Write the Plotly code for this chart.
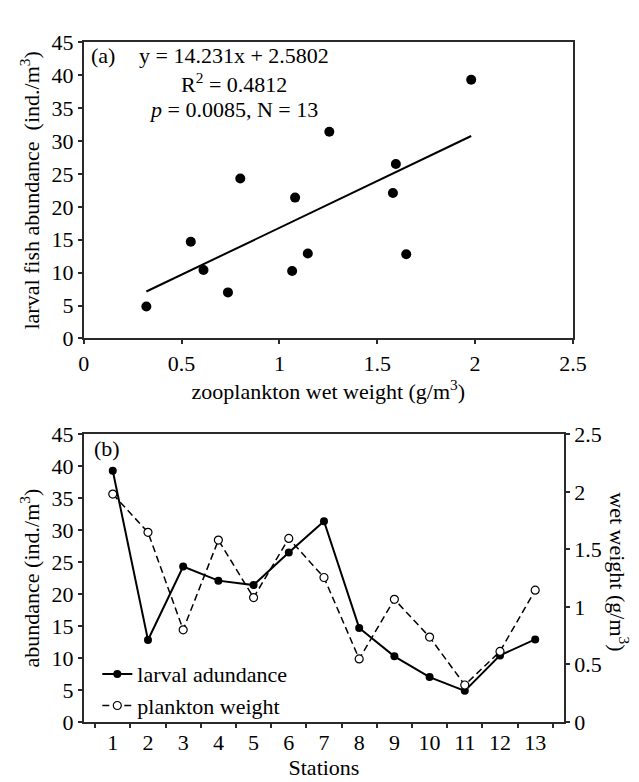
import numpy as np
import plotly.graph_objects as go

# station data
stations = [str(i) for i in range(1, 14)]
larval_abundance = [39.3, 12.8, 24.3, 22.1, 21.4, 26.5, 31.4, 14.7, 10.25, 7.0, 4.85, 10.4, 12.9]
plankton_weight = [1.98, 1.648, 0.80, 1.58, 1.08, 1.595, 1.255, 0.547, 1.065, 0.737, 0.32, 0.612, 1.145]

# regression reported on panel (a)
slope, intercept = 14.231, 2.5802
fit_x = [min(plankton_weight), max(plankton_weight)]
fit_y = [slope * v + intercept for v in fit_x]

FONT = "Liberation Serif, Times New Roman, serif"
W, H = 639, 782
AX = "#2a2a2a"


def px_x(p):
    return p / W


def px_y(p):
    return 1 - p / H


fig = go.Figure()

# panel (a)
fig.add_trace(go.Scatter(
    x=plankton_weight, y=larval_abundance, mode="markers",
    marker=dict(size=10, color="black"), showlegend=False,
    xaxis="x", yaxis="y",
))
fig.add_trace(go.Scatter(
    x=fit_x, y=fit_y, mode="lines", line=dict(color="black", width=2),
    showlegend=False, xaxis="x", yaxis="y",
))

# panel (b)
fig.add_trace(go.Scatter(
    x=stations, y=larval_abundance, mode="lines+markers",
    name="larval adundance",
    line=dict(color="black", width=2),
    marker=dict(size=8, color="black"),
    xaxis="x2", yaxis="y2",
))
fig.add_trace(go.Scatter(
    x=stations, y=plankton_weight, mode="lines+markers",
    name="plankton weight",
    line=dict(color="black", width=1.5, dash="7px,4px"),
    marker=dict(size=8, color="white", line=dict(color="black", width=1.2)),
    xaxis="x2", yaxis="y3",
))

axis_common = dict(
    showline=True, linecolor=AX, linewidth=1.5, ticks="outside", ticklen=4,
    tickcolor=AX, tickwidth=1.5, showgrid=False, zeroline=False,
    tickfont=dict(size=22, color="black", family=FONT),
)


def label(text, x, y, **kw):
    return dict(text=text, x=px_x(x), y=px_y(y), xref="paper", yref="paper",
                showarrow=False, font=dict(size=22, family=FONT, color="black"), **kw)


fig.update_layout(
    width=W, height=H,
    margin=dict(l=0, r=0, t=0, b=0),
    paper_bgcolor="white", plot_bgcolor="white",
    font=dict(family=FONT, size=22, color="black"),
    xaxis=dict(
        axis_common, domain=[px_x(72), px_x(577)], anchor="y",
        range=[0, 2.5], dtick=0.5, mirror=True,
        title=dict(text="zooplankton wet weight (g/m<sup>3</sup>)", font=dict(size=22), standoff=2),
    ),
    yaxis=dict(
        axis_common, domain=[px_y(329), px_y(23)], anchor="x",
        range=[0, 45], dtick=5, mirror=True,
        title=dict(text="larval fish abundance\u00a0 (ind./m<sup>3</sup>)", font=dict(size=22), standoff=6),
    ),
    xaxis2=dict(
        axis_common, domain=[px_x(72), px_x(568)], anchor="y2",
        type="category", tickson="boundaries", mirror=True,
        title=dict(text="Stations", font=dict(size=22), standoff=2),
    ),
    yaxis2=dict(
        axis_common, domain=[px_y(725), px_y(428)], anchor="x2",
        range=[0, 45], dtick=5,
        title=dict(text="abundance (ind./m<sup>3</sup>)", font=dict(size=22), standoff=6),
    ),
    yaxis3=dict(
        axis_common, overlaying="y2", side="right", anchor="x2",
        range=[0, 2.5], dtick=0.5,
    ),
    legend=dict(
        x=px_x(86), y=px_y(654), xanchor="left", yanchor="top",
        bgcolor="rgba(0,0,0,0)", font=dict(size=22, family=FONT),
        tracegroupgap=0,
    ),
    showlegend=True,
    annotations=[
        label("(a)", 77, 37, xanchor="left", yanchor="middle"),
        label("(b)", 81, 443, xanchor="left", yanchor="middle"),
        label("y = 14.231x + 2.5802", 227, 37, xanchor="center", yanchor="middle"),
        label("R<sup>2</sup> = 0.4812", 227, 65, xanchor="center", yanchor="middle"),
        label("<i>p</i> = 0.0085, N = 13", 227, 92, xanchor="center", yanchor="middle"),
        label("wet weight (g/m<sup>3</sup>)", 625, 570, xanchor="center", yanchor="middle",
              textangle=90),
    ],
)

fig.write_html("out.html")
